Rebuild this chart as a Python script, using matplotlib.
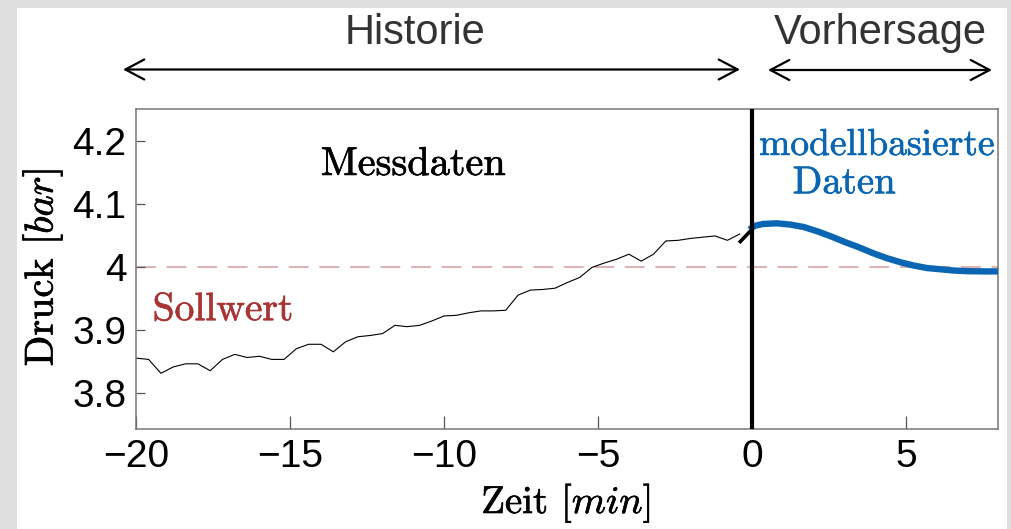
import matplotlib

matplotlib.use("Agg")
import matplotlib.patheffects as pe
import matplotlib.pyplot as plt
from matplotlib.patches import FancyArrowPatch, Rectangle

# measured pressure (history), minutes before now
hist_time = [
    -20.0, -19.6, -19.2, -18.8, -18.4, -18.0, -17.6, -17.2, -16.8, -16.4,
    -16.0, -15.6, -15.2, -14.8, -14.4, -14.0, -13.6, -13.2, -12.8, -12.4,
    -12.0, -11.6, -11.2, -10.8, -10.4, -10.0, -9.6, -9.2, -8.8, -8.4,
    -8.0, -7.6, -7.2, -6.8, -6.4, -6.0, -5.6, -5.2, -4.8, -4.4,
    -4.0, -3.6, -3.2, -2.8, -2.4, -2.0, -1.6, -1.2, -0.8, -0.4,
]
hist_pressure = [
    3.855, 3.853, 3.831, 3.841, 3.846, 3.846, 3.835, 3.853, 3.861, 3.856,
    3.858, 3.853, 3.853, 3.870, 3.877, 3.877, 3.865, 3.881, 3.889, 3.891,
    3.894, 3.907, 3.905, 3.907, 3.914, 3.922, 3.923, 3.927, 3.930, 3.930,
    3.931, 3.955, 3.963, 3.964, 3.966, 3.975, 3.983, 3.999, 4.006, 4.012,
    4.020, 4.009, 4.020, 4.041, 4.042, 4.045, 4.047, 4.049, 4.042, 4.052,
]

# short bold link between history and forecast
link_time = [-0.42, -0.03]
link_pressure = [4.038, 4.058]

# model based forecast
pred_time = [0.0, 0.08, 0.36, 0.80, 1.25, 1.69, 2.14, 2.58, 3.03, 3.47, 3.91,
             4.36, 4.80, 5.25, 5.69, 6.13, 6.58, 7.02, 7.58, 8.0]
pred_pressure = [4.062, 4.065, 4.068, 4.069, 4.067, 4.063, 4.056, 4.048, 4.039, 4.031,
                 4.022, 4.014, 4.0075, 4.002, 3.998, 3.996, 3.994, 3.993, 3.9927, 3.9927]

setpoint = 4.0
x_ticks = [-20, -15, -10, -5, 0, 5]
y_ticks = [3.8, 3.9, 4.0, 4.1, 4.2]
y_tick_labels = ["3.8", "3.9", "4", "4.1", "4.2"]

W, H = 1011, 529
plt.rcParams["mathtext.fontset"] = "cm"
sans = "Liberation Sans"
serif = "cmr10"
blue = "#0a66b2"
red = "#a83434"

fig = plt.figure(figsize=(W / 100, H / 100), dpi=100, facecolor="#dedede")
fig.add_artist(Rectangle((17 / W, 0), (1007 - 17) / W, (H - 8) / H,
                         transform=fig.transFigure, facecolor="white",
                         edgecolor="none", zorder=-10))


def px(x, y):
    return x / W, 1 - y / H


def heavy(color):
    # the reference serif glyphs are drawn a bit heavier than plain cmr10
    return [pe.withStroke(linewidth=0.45, foreground=color)]


ax = fig.add_axes([136.3 / W, 1 - 428.7 / H, (998.3 - 136.3) / W, (428.7 - 109.3) / H])
ax.set_xlim(-20, 8)
ax.set_ylim(3.743, 4.25)

ax.axhline(setpoint, color="#d39c9c", lw=1.1, dashes=(13, 7), zorder=1)
ax.plot(hist_time, hist_pressure, color="black", lw=0.8, zorder=2)
ax.plot(link_time, link_pressure, color="black", lw=2.6, solid_capstyle="butt", zorder=3)
ax.plot(pred_time, pred_pressure, color=blue, lw=4.6, zorder=3)
ax.axvline(0, color="black", lw=3.0, zorder=4)

ax.set_xticks(x_ticks)
ax.set_yticks(y_ticks)
ax.set_yticklabels(y_tick_labels)
ax.tick_params(axis="both", direction="in", colors="#555555", labelcolor="black",
               labelsize=28, width=0.9)
ax.tick_params(axis="x", length=9.5, pad=7.5)
ax.tick_params(axis="y", length=6.5, pad=7)
for label in ax.get_xticklabels() + ax.get_yticklabels():
    label.set_fontfamily(sans)
for spine in ax.spines.values():
    spine.set_color("#777777")
    spine.set_linewidth(1.1)

ax.text(-11.0, 4.1458, "Messdaten", family=serif, fontsize=29, ha="center",
        va="baseline", path_effects=heavy("black"))
ax.text(-19.47, 3.9153, "Sollwert", family=serif, fontsize=28.5, color=red,
        va="baseline", path_effects=heavy(red))
ax.text(0.23, 4.1776, "modellbasierte", family=serif, fontsize=27, color=blue,
        va="baseline", path_effects=heavy(blue))
ax.text(1.32, 4.1167, "Daten", family=serif, fontsize=28, color=blue,
        va="baseline", path_effects=heavy(blue))

fig.text(*px(43, 267.5), "Druck $[bar]$", family=serif, fontsize=29, rotation=90,
         ha="center", va="center", path_effects=heavy("black"))
fig.text(*px(566, 513), "Zeit $[min]$", family=serif, fontsize=28, ha="center",
         va="baseline", path_effects=heavy("black"))

fig.text(*px(415, 44), "Historie", family=sans, fontsize=30, color="#333333",
         ha="center", va="baseline")
fig.text(*px(880, 44), "Vorhersage", family=sans, fontsize=30, color="#333333",
         ha="center", va="baseline")
for x0, x1, y in [(123, 740, 69.5), (768, 992, 70)]:
    fig.add_artist(FancyArrowPatch(px(x0, y), px(x1, y), transform=fig.transFigure,
                                   arrowstyle="<->,head_length=0.68,head_width=0.36",
                                   mutation_scale=20, lw=1.6, color="black",
                                   shrinkA=0, shrinkB=0))

fig.savefig("out.png", dpi=100, facecolor=fig.get_facecolor())
